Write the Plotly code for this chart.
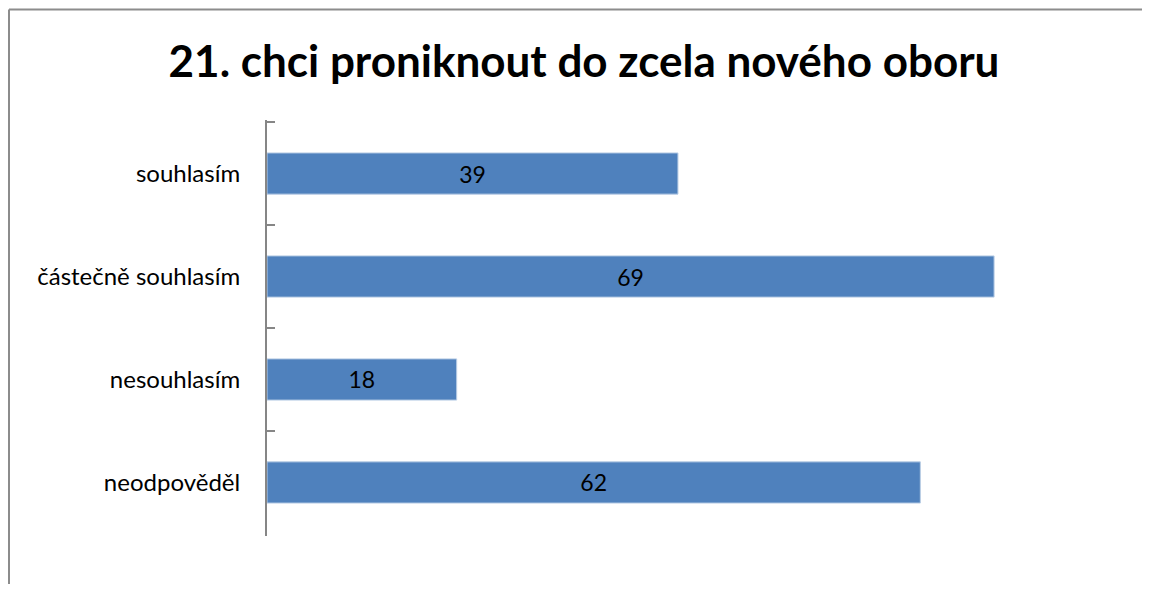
import plotly.graph_objects as go

categories = ["souhlasím", "částečně souhlasím", "nesouhlasím", "neodpověděl"]
values = [39, 69, 18, 62]

title_text = "21. chci proniknout do zcela nového oboru"

# la page ajoute une marge de 8 px autour du graphique
W, H = 1134, 576
left, right, top, bottom = 259, 1102, 112, 528

fig = go.Figure(
    go.Bar(
        x=values,
        y=categories,
        orientation="h",
        width=0.4,
        marker=dict(color="#4F81BD", line=dict(color="#B9CDE5", width=1)),
        text=values,
        textposition="inside",
        insidetextanchor="middle",
        textfont=dict(family="Lato", size=23, color="black"),
        constraintext="none",
    )
)


def px_x(p):
    return (p - left) / (right - left)


def px_y(p):
    return (bottom - p) / (bottom - top)


# cadre du graphique (bords gauche et haut visibles), sans dépasser la figure
border = dict(color="#8C8C8C", width=2)
fig.add_shape(type="line", xref="paper", yref="paper",
              x0=px_x(1), x1=px_x(1), y0=px_y(1.5), y1=px_y(H), line=border)
fig.add_shape(type="line", xref="paper", yref="paper",
              x0=px_x(1), x1=px_x(W), y0=px_y(1.5), y1=px_y(1.5), line=border)

fig.update_layout(
    width=W,
    height=H,
    margin=dict(l=left, r=W - right, t=top, b=H - bottom),
    paper_bgcolor="white",
    plot_bgcolor="white",
    showlegend=False,
    title=dict(
        text=f"<b>{title_text}</b>",
        x=576 / W,
        xanchor="center",
        y=1 - 54 / H,
        yanchor="middle",
        yref="container",
        font=dict(family="Lato", size=44, color="black"),
    ),
    xaxis=dict(range=[0, 80], visible=False),
    yaxis=dict(
        categoryorder="array",
        categoryarray=categories,
        range=[3.52, -0.52],
        showline=True,
        linecolor="#868686",
        linewidth=2,
        ticks="inside",
        ticklen=8,
        tickwidth=2,
        tickcolor="#868686",
        tickson="boundaries",
        showgrid=False,
        ticklabelstandoff=20,
        tickfont=dict(family="Lato", size=24, color="black"),
    ),
)

fig.write_html("out.html")
